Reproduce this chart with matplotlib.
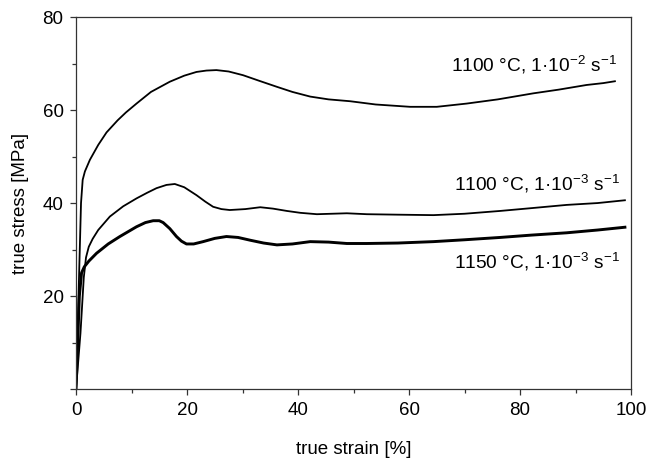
import matplotlib
matplotlib.use("Agg")
import matplotlib.pyplot as plt
from matplotlib.ticker import MultipleLocator, FixedLocator

plt.rcParams['font.family'] = ['Liberation Sans', 'DejaVu Sans']
plt.rcParams['mathtext.fontset'] = 'custom'
plt.rcParams['mathtext.rm'] = 'Liberation Sans'
plt.rcParams['mathtext.it'] = 'Liberation Sans'

# 1100 °C, 1e-2 s^-1
strain_a = [0, 0.9, 1.2, 1.6, 2.5, 4.0, 5.5, 7.5, 9.0, 10.9, 13.5, 16.9, 19.5, 21.7, 23.5,
            25.3, 27.5, 30.1, 33.0, 36.2, 39.0, 42.2, 45.5, 49.4, 54.0, 60.2, 65.0,
            70.4, 76.0, 82.4, 87.0, 92.0, 95.0, 97.1]
stress_a = [0, 40, 45, 46.8, 49.3, 52.5, 55.2, 57.8, 59.5, 61.4, 63.9, 66.1, 67.4, 68.2,
            68.5, 68.6, 68.3, 67.5, 66.3, 65.0, 63.9, 62.9, 62.3, 61.9, 61.2, 60.7,
            60.7, 61.4, 62.3, 63.6, 64.4, 65.4, 65.8, 66.2]

# 1100 °C, 1e-3 s^-1
strain_b = [0, 0.8, 1.4, 1.8, 2.3, 3.0, 4.0, 6.1, 8.5, 10.9, 12.8, 14.5, 16.3, 17.8,
            19.5, 21.7, 23.3, 24.7, 26.2, 27.7, 30.5, 33.2, 35.5, 38.0, 40.4, 43.4,
            48.8, 52.4, 58.0, 64.4, 70.0, 76.4, 82.0, 88.4, 94.0, 98.9]
stress_b = [0, 12, 24, 28.3, 30.6, 32.3, 34.2, 37.1, 39.3, 41.0, 42.2, 43.2, 43.9, 44.1,
            43.4, 41.7, 40.3, 39.2, 38.7, 38.5, 38.7, 39.1, 38.8, 38.3, 37.9, 37.6,
            37.8, 37.6, 37.5, 37.4, 37.7, 38.3, 38.9, 39.6, 40.0, 40.6]

# 1150 °C, 1e-3 s^-1
strain_c = [0, 0.6, 1.0, 1.5, 2.3, 3.7, 5.8, 7.9, 10.9, 12.5, 13.9, 15.0, 15.7, 16.9,
            18.1, 19.0, 19.9, 21.2, 22.9, 25.0, 27.1, 29.2, 31.4, 33.8, 36.2, 39.0,
            42.2, 45.5, 48.8, 52.4, 58.0, 64.4, 70.0, 76.4, 82.0, 88.4, 94.0, 98.9]
stress_c = [0, 20, 25.0, 26.3, 27.5, 29.2, 31.2, 32.8, 34.9, 35.8, 36.2, 36.2, 35.8,
            34.5, 32.8, 31.8, 31.2, 31.2, 31.7, 32.4, 32.8, 32.6, 32.0, 31.4, 31.0,
            31.2, 31.7, 31.6, 31.3, 31.3, 31.4, 31.7, 32.1, 32.6, 33.1, 33.6, 34.2, 34.8]

labels = [r'1100 °C, 1·10$^{-2}$ s$^{-1}$',
          r'1100 °C, 1·10$^{-3}$ s$^{-1}$',
          r'1150 °C, 1·10$^{-3}$ s$^{-1}$']
label_x = [97.5, 98.0, 98.0]
label_y = [68.2, 42.8, 26.0]

fig = plt.figure(figsize=(6.52, 4.62), dpi=100)
ax = fig.add_axes([0.1166, 0.158, 0.8512, 0.805])

ax.plot(strain_a, stress_a, color='black', lw=1.3)
ax.plot(strain_b, stress_b, color='black', lw=1.3)
ax.plot(strain_c, stress_c, color='black', lw=2.1)

for txt, tx, ty in zip(labels, label_x, label_y):
    ax.text(tx, ty, txt, ha='right', va='baseline', fontsize=13.8)

ax.set_xlim(0, 100)
ax.set_ylim(0, 80)
ax.xaxis.set_major_locator(MultipleLocator(20))
ax.xaxis.set_minor_locator(MultipleLocator(10))
ax.yaxis.set_major_locator(FixedLocator([0, 20, 40, 60, 80]))
ax.yaxis.set_minor_locator(MultipleLocator(10))
ax.set_yticklabels(['', '20', '40', '60', '80'])

ax.tick_params(which='major', direction='out', length=4, width=0.9, pad=5,
               labelsize=13.5, color='#333333')
ax.tick_params(which='minor', direction='out', length=3, width=0.9, color='#333333')
ax.tick_params(top=False, right=False, which='both')
for sp in ax.spines.values():
    sp.set_color('#333333')
    sp.set_linewidth(0.9)

ax.set_xlabel('true strain [%]', fontsize=13.5, labelpad=16)
ax.set_ylabel('true stress [MPa]', fontsize=13.5, labelpad=10)

fig.savefig('out.png', dpi=100)
